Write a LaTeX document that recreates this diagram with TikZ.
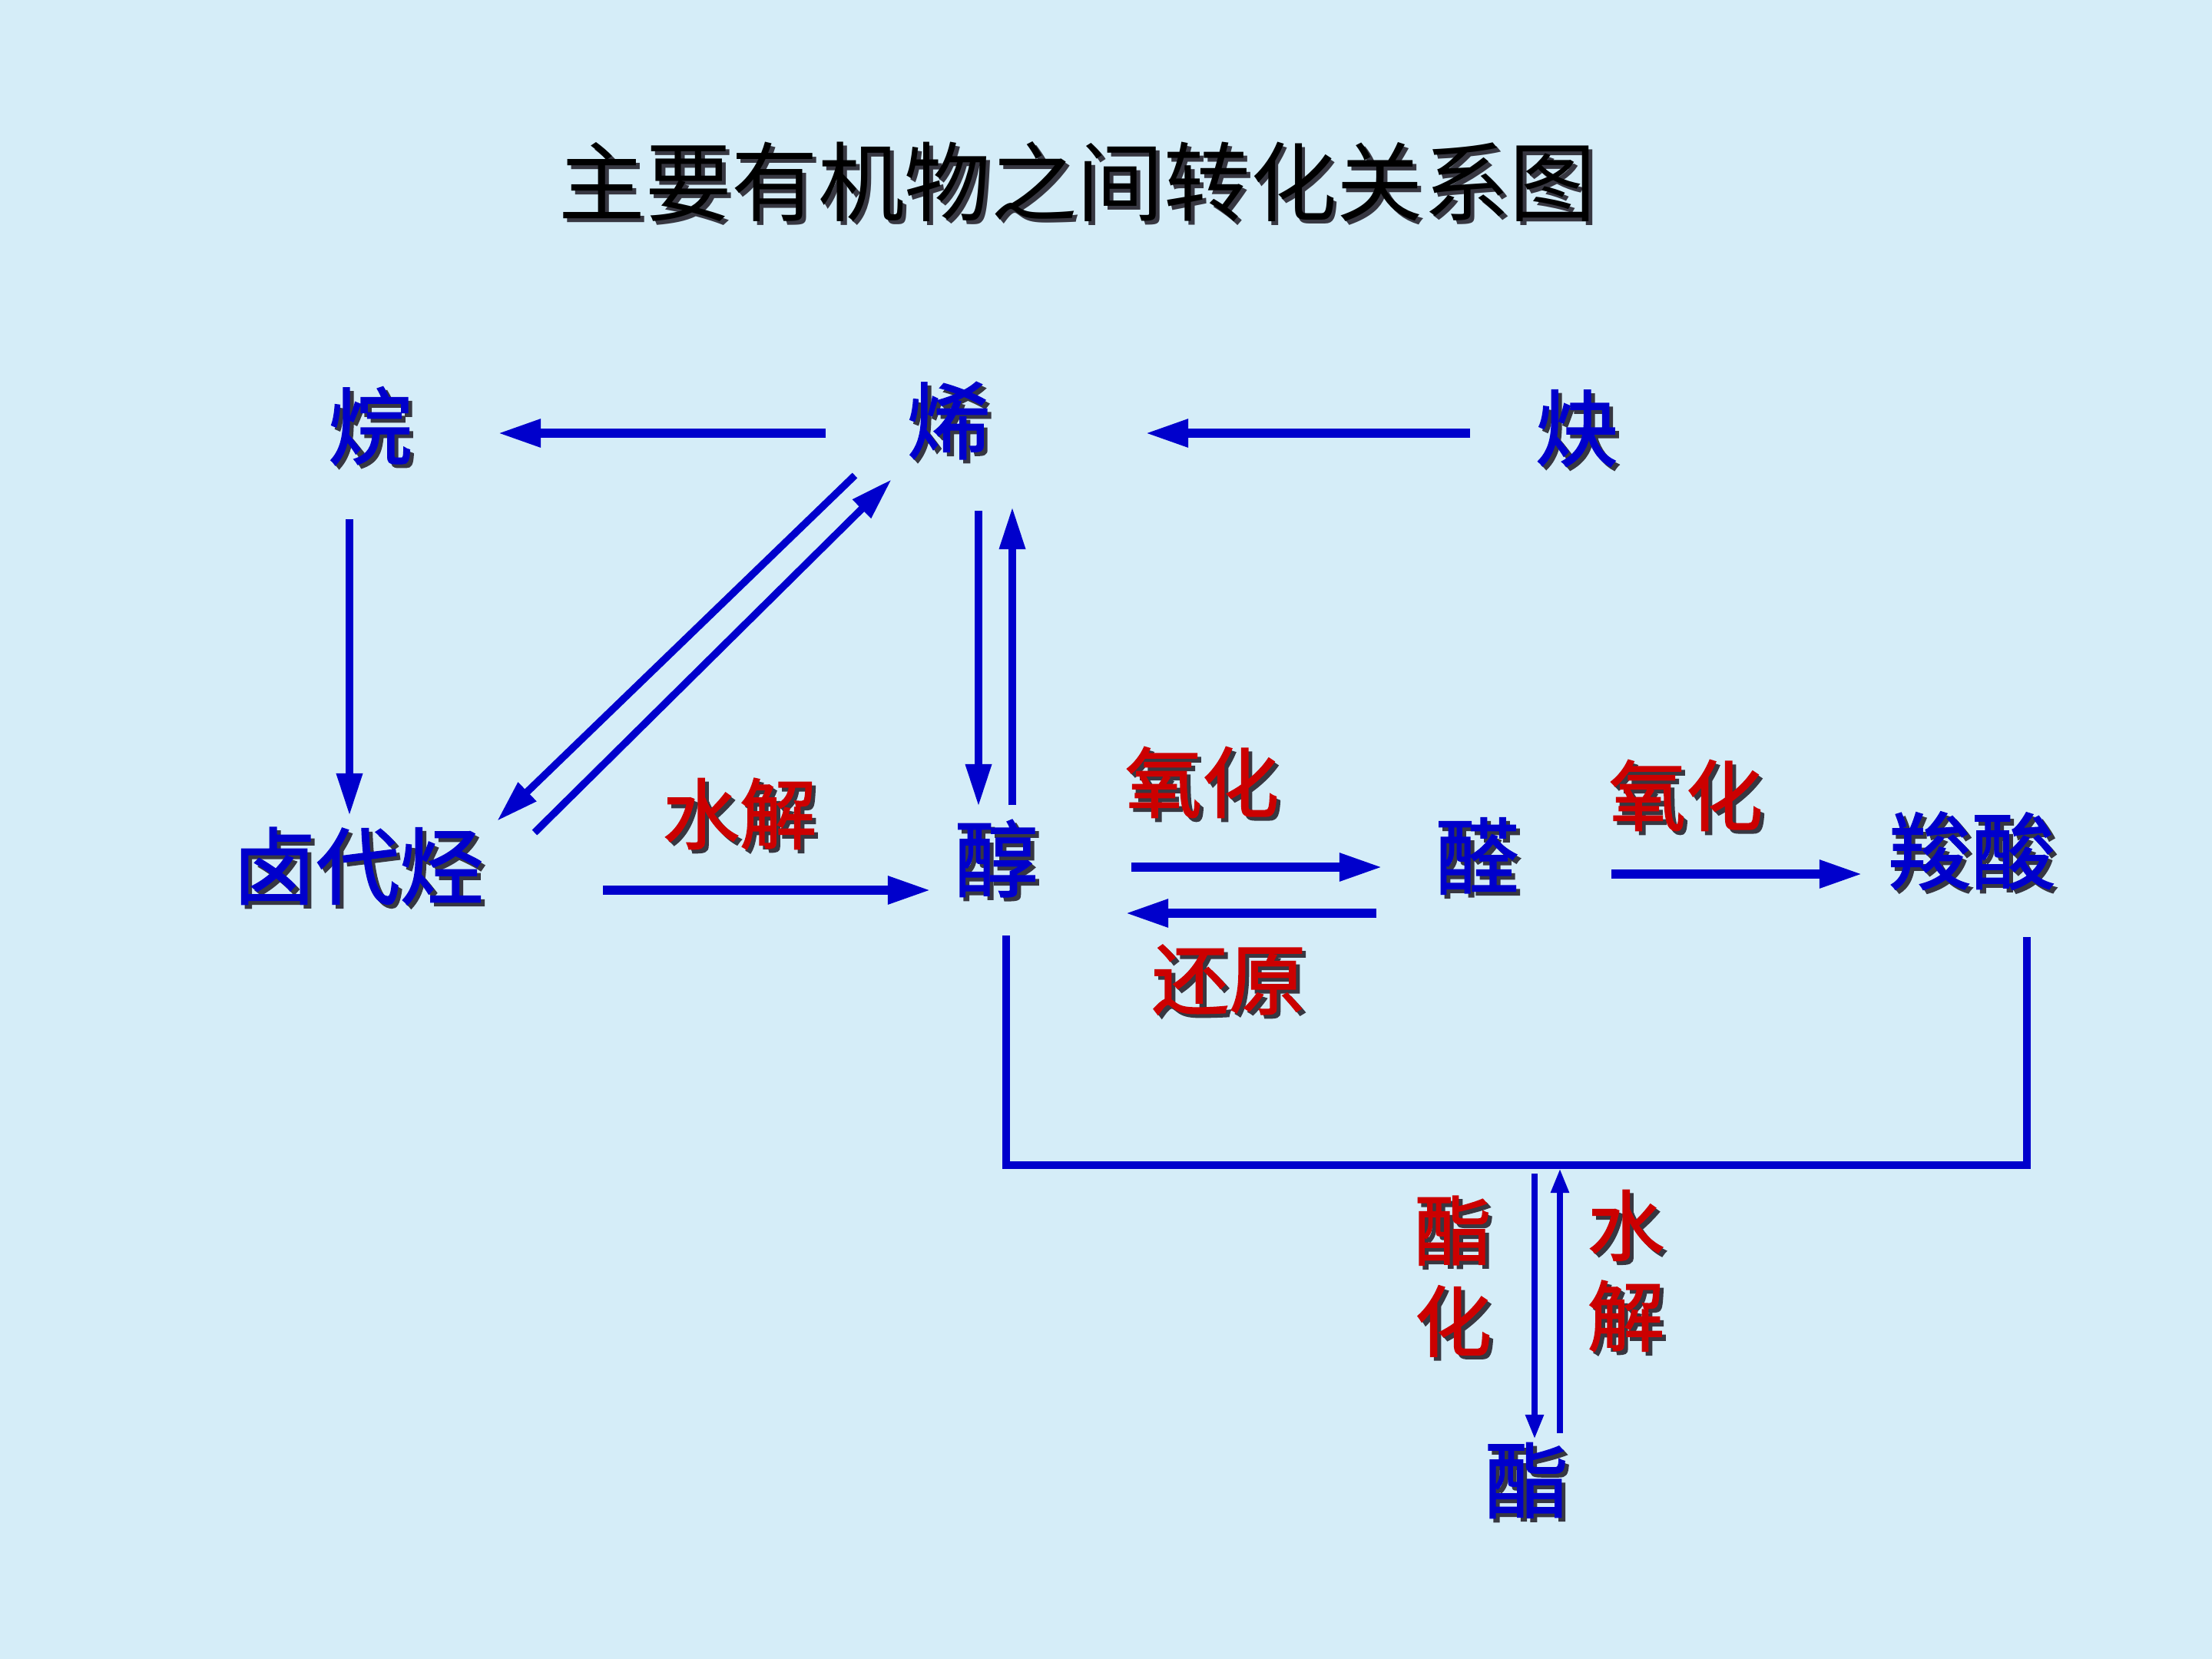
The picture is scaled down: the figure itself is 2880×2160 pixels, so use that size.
\documentclass[tikz,border=0pt]{standalone}
\usepackage{fontspec}
\newfontfamily\cjk{Noto Sans CJK SC}
\newfontfamily\cjkb[FakeBold=1.6]{Noto Sans CJK SC}
\usetikzlibrary{arrows.meta}
\definecolor{bg}{RGB}{213,237,248}
\definecolor{nblue}{RGB}{0,0,204}
\definecolor{nred}{RGB}{204,0,0}
\definecolor{shd}{RGB}{55,55,65}
\newcommand\shtxt[2]{\makebox[0pt][l]{\hspace{1.4pt}\raisebox{-1.4pt}{\color{shd}#2}}{\color{#1}#2}}
\tikzset{
  chem/.style={font=\cjkb\fontsize{31}{37}\selectfont, inner sep=0pt},
  lbl/.style={font=\cjkb\fontsize{28.5}{33.6}\selectfont, inner sep=0pt},
  thickarr/.style={draw=nblue, line width=0.115cm, -{Triangle[length=0.56cm,width=0.34cm]}},
  thinarr/.style={draw=nblue, line width=0.095cm, -{Triangle[length=0.55cm,width=0.32cm]}},
  smallarr/.style={draw=nblue, line width=0.085cm, -{Triangle[length=0.32cm,width=0.22cm]}},
  bracket/.style={draw=nblue, line width=0.1cm},
}
\begin{document}
\begin{tikzpicture}[x=0.01cm,y=-0.01cm]
\fill[bg] (0,0) rectangle (2880,2160);
\useasboundingbox (0,0) rectangle (2880,2160);

% title
\node[font=\cjk\fontsize{32}{38}\selectfont, inner sep=0pt] (title) at (1403,239) {\shtxt{black}{主要有机物之间转化关系图}};

% compounds
\node[chem] (wan)  at (482,557)   {\shtxt{nblue}{烷}};
\node[chem] (xi)   at (1235,550)  {\shtxt{nblue}{烯}};
\node[chem] (que)  at (2053,560)  {\shtxt{nblue}{炔}};
\node[chem] (lu)   at (466,1130)  {\shtxt{nblue}{卤代烃}};
\node[chem] (chun) at (1297,1120) {\shtxt{nblue}{醇}};
\node[chem] (quan) at (1923,1117) {\shtxt{nblue}{醛}};
\node[chem] (suo)  at (2567,1110) {\shtxt{nblue}{羧酸}};
\node[chem] (zhi)  at (1988,1930) {\shtxt{nblue}{酯}};

% reaction labels
\node[lbl] (sj1) at (963,1062)  {\shtxt{nred}{水解}};
\node[lbl] (yh1) at (1565,1021) {\shtxt{nred}{氧化}};
\node[lbl] (hy)  at (1600,1278) {\shtxt{nred}{还原}};
\node[lbl] (yh2) at (2195,1038) {\shtxt{nred}{氧化}};
\node[lbl, align=center] (zhh) at (1892,1664) {\shtxt{nred}{酯}\\\shtxt{nred}{化}};
\node[lbl, align=center] (sj2) at (2117,1657) {\shtxt{nred}{水}\\\shtxt{nred}{解}};

% connector end points
\coordinate (xiW)    at (1075,564);
\coordinate (wanE)   at (648,564);
\coordinate (queW)   at (1914,564);
\coordinate (xiE)    at (1491,564);
\coordinate (wanS)   at (455,676);
\coordinate (luN)    at (455,1062);
\coordinate (xiSW1)  at (1113,619);
\coordinate (luNE1)  at (647,1069);
\coordinate (luNE2)  at (696,1084);
\coordinate (xiSW2)  at (1161,624);
\coordinate (xiS1)   at (1274,665);
\coordinate (chunN1) at (1274,1050);
\coordinate (chunN2) at (1318,1048);
\coordinate (xiS2)   at (1318,660);
\coordinate (luE)    at (785,1159);
\coordinate (chunW)  at (1212,1159);
\coordinate (chunE1) at (1473,1129);
\coordinate (quanW1) at (1800,1129);
\coordinate (quanW2) at (1792,1189);
\coordinate (chunE2) at (1465,1189);
\coordinate (quanE)  at (2098,1138);
\coordinate (suoW)   at (2425,1138);
\coordinate (chunS)  at (1310,1218);
\coordinate (jl)     at (1310,1517);
\coordinate (jr)     at (2639,1517);
\coordinate (suoS)   at (2639,1220);
\coordinate (barD)   at (1998,1528);
\coordinate (zhiN1)  at (1998,1874);
\coordinate (zhiN2)  at (2031,1866);
\coordinate (barU)   at (2031,1521);

% connectors
\draw[thickarr] (xiW) -- (wanE);
\draw[thickarr] (queW) -- (xiE);
\draw[thinarr] (wanS) -- (luN);
\draw[thinarr] (xiSW1) -- (luNE1);
\draw[thinarr] (luNE2) -- (xiSW2);
\draw[thinarr] (xiS1) -- (chunN1);
\draw[thinarr] (chunN2) -- (xiS2);
\draw[thickarr] (luE) -- (chunW);
\draw[thickarr] (chunE1) -- (quanW1);
\draw[thickarr] (quanW2) -- (chunE2);
\draw[thickarr] (quanE) -- (suoW);
\draw[bracket] (chunS) -- (jl) -- (jr) -- (suoS);
\draw[smallarr] (barD) -- (zhiN1);
\draw[smallarr] (zhiN2) -- (barU);
\end{tikzpicture}
\end{document}
